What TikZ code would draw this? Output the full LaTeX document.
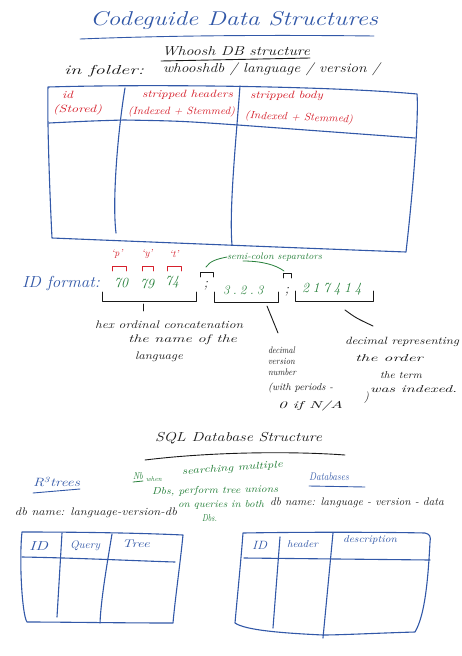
\documentclass[tikz,border=0pt]{standalone}
\usepackage{graphicx}
\definecolor{pblue}{RGB}{50,88,168}
\definecolor{pred}{RGB}{214,32,44}
\definecolor{pgreen}{RGB}{38,128,58}
\definecolor{inkk}{RGB}{25,25,25}
\newcommand\hw[2]{\resizebox{#1pt}{\height}{#2}}
\newcommand\ksp{\kern3.3pt}
\tikzset{
  lbl/.style={inner sep=0pt, outer sep=0pt, anchor=west},
  fs/.style={font=\itshape\fontsize{#1}{#1}\selectfont},
  tbl/.style={draw=pblue, line width=1.1pt, line cap=round, line join=round},
  inkline/.style={draw=inkk, line width=0.9pt, line cap=round, line join=round},
  redline/.style={draw=pred, line width=0.9pt, line cap=round, line join=round},
  greenline/.style={draw=pgreen, line width=0.8pt, line cap=round},
  blueline/.style={draw=pblue, line width=0.9pt, line cap=round},
}
\begin{document}
\begin{tikzpicture}[x=1pt,y=-1pt]
\useasboundingbox[fill=white] (0,0) rectangle (462,656);

% ---------- title ----------
\node[lbl,fs=20,text=pblue] (title) at (90,20) {\hw{288}{Codeguide Data Structures}};
\draw[blueline] (80,39) .. controls (180,35) and (290,35) .. (374,36);

% ---------- whoosh ----------
\node[lbl,fs=13,text=inkk] (whoosh) at (162,51) {\hw{148}{Whoosh DB structure}};
\draw[inkline] (161,61) -- (310,58);
\node[lbl,fs=13,text=inkk] (infolder) at (64,71) {\hw{80}{in folder:}};
\node[lbl,fs=13,text=inkk] (folder) at (163,69) {\hw{217}{whooshdb / language / version /}};

% ---------- table 1 ----------
\draw[tbl] (48,87) .. controls (150,84) and (330,86) .. (417,94)
  .. controls (419,120) and (412,200) .. (406,252)
  .. controls (300,248) and (150,242) .. (52,238)
  .. controls (50,200) and (47,120) .. cycle;
\draw[tbl] (49,123) .. controls (90,121) .. (124,120) .. controls (180,121) .. (238,125) -- (415,138);
\draw[tbl] (125,88) .. controls (118,130) and (112,200) .. (116,233);
\draw[tbl] (240,86) .. controls (236,140) and (229,210) .. (232,245);

\node[lbl,fs=10.5,text=pred] (h1a) at (62,95) {\hw{11}{id}};
\node[lbl,fs=10.5,text=pred] (h1b) at (53,110) {\hw{49}{(Stored)}};
\node[lbl,fs=10.5,text=pred] (h2a) at (142,95) {\hw{91}{stripped headers}};
\node[lbl,fs=10.5,text=pred] (h2b) at (128,112) {\hw{107}{(Indexed + Stemmed)}};
\node[lbl,fs=10.5,text=pred] (h3a) at (250,96) {\hw{73}{stripped body}};
\node[lbl,fs=10.5,text=pred,rotate=-2] (h3b) at (245,116) {\hw{108}{(Indexed + Stemmed)}};

% ---------- ID format ----------
\node[lbl,fs=16,text=pblue] (idf) at (22,283) {\hw{78}{ID format:}};
\node[fs=10,text=pred,inner sep=0pt] (lp) at (117,254) {`p'};
\node[fs=10,text=pred,inner sep=0pt] (ly) at (147,254) {`y'};
\node[fs=10,text=pred,inner sep=0pt] (lt) at (174,254) {`t'};
\draw[redline] (112,271) -- (112,266) -- (126,266) -- (126,271);
\draw[redline] (142,271) -- (142,266) -- (153,266) -- (153,271);
\draw[redline] (167,271) -- (167,266) -- (181,266) -- (181,271);
\node[fs=14,text=pgreen,inner sep=0pt] (n70) at (121,283) {70};
\node[fs=14,text=pgreen,inner sep=0pt] (n79) at (147,284) {79};
\node[fs=14,text=pgreen,inner sep=0pt] (n74) at (172,282) {74};
\node[fs=14,text=inkk,inner sep=0pt] (sc1) at (206,286) {;};
\node[fs=14,text=inkk,inner sep=0pt] (sc2) at (287,292) {;};
\node[lbl,fs=13,text=pgreen] (ver) at (223,290) {3\ksp.\ksp2\ksp.\ksp3};
\node[lbl,fs=14,text=pgreen] (idx) at (302,289) {2\kern3.5pt1\kern3.5pt7\kern3.5pt4\kern3.5pt1\kern3.5pt4};
\draw[inkline] (200,277) -- (200,272) -- (213,272) -- (213,277);
\draw[inkline] (283,278) -- (283,273) -- (291,273) -- (291,278);

\node[lbl,fs=9.5,text=pgreen] (semi) at (227,257) {\hw{95}{semi-colon separators}};
\coordinate (sc1top) at (206,267);
\coordinate (sc2top) at (284,271);
\coordinate (semimid) at (243,261);
\draw[greenline] (sc1top) .. controls (210,261) and (217,259) .. (semi.west);
\draw[greenline] (semimid) .. controls (262,261) and (276,265) .. (sc2top);

\draw[inkline] (102,292) -- (102,301) -- (196,301) -- (196,292);
\draw[inkline] (214,292) -- (214,302) -- (278,302) -- (278,292);
\draw[inkline] (295,291) -- (295,301) -- (373,301) -- (373,291);

% ---------- explanations ----------
\node[lbl,fs=11,text=inkk] (hex1) at (95,325) {\hw{148}{hex ordinal concatenation}};
\node[lbl,fs=11,text=inkk] (hex2) at (128,340) {\hw{109}{the name of the}};
\node[lbl,fs=11,text=inkk] (hex3) at (135,357) {\hw{48}{language}};
\node[lbl,fs=9.5,text=inkk] (d1) at (268,350) {\hw{27}{decimal}};
\node[lbl,fs=9.5,text=inkk] (d2) at (268,361) {\hw{27}{version}};
\node[lbl,fs=9.5,text=inkk] (d3) at (268,372) {\hw{28}{number}};
\node[lbl,fs=10,text=inkk] (d4) at (268,388) {\hw{65}{(with periods -}};
\node[lbl,fs=10,text=inkk] (d5) at (278,406) {\hw{65}{0 if N/A}};
\node[lbl,fs=12,text=inkk] (d6) at (364,398) {)};
\node[lbl,fs=10.5,text=inkk] (r1) at (345,342) {\hw{114}{decimal representing}};
\node[lbl,fs=10,text=inkk] (r2) at (355,358) {\hw{68}{the order}};
\node[lbl,fs=10,text=inkk] (r3) at (380,375) {\hw{42}{the term}};
\node[lbl,fs=10,text=inkk] (r4) at (370,389) {\hw{87}{was indexed.}};

\coordinate (b1) at (143,304);
\coordinate (hextop) at (143,311);
\coordinate (b2) at (267,306);
\coordinate (d1top) at (278,333);
\coordinate (b3) at (345,310);
\coordinate (r1top) at (373,326);
\draw[inkline] (b1) -- (hextop);
\draw[inkline] (b2) -- (d1top);
\draw[inkline] (b3) .. controls (356,318) .. (r1top);

% ---------- SQL ----------
\node[lbl,fs=13,text=inkk] (sql) at (155,438) {\hw{167}{SQL Database Structure}};
\draw[inkline] (145,460) .. controls (210,452) and (290,451) .. (345,455);

\node[lbl,fs=12,text=pblue] (rtree) at (33,482) {\hw{47}{R\textsuperscript{3}trees}};
\draw[blueline] (33,493) -- (80,489);
\node[lbl,fs=11,text=inkk] (dbn1) at (15,513) {\hw{162}{db name: language-version-db}};

\node[lbl,fs=10,text=pgreen] (nb) at (133,476) {\hw{10}{Nb}};
\draw[greenline] (133,482) -- (143,481);
\node[lbl,fs=7,text=pgreen] (when) at (146,479) {\hw{16}{when}};
\node[lbl,fs=10,text=pgreen,rotate=4] (nb1) at (182,472) {\hw{101}{searching multiple}};
\node[lbl,fs=10,text=pgreen,rotate=1] (nb2) at (152,492) {\hw{126}{Dbs, perform tree unions}};
\node[lbl,fs=10,text=pgreen] (nb3) at (178,505) {\hw{86}{on queries in both}};
\node[lbl,fs=10,text=pgreen] (nb4) at (202,518) {\hw{15}{Dbs.}};

\node[lbl,fs=11,text=pblue] (dbs) at (309,477) {\hw{40}{Databases}};
\draw[blueline] (309,486) -- (365,487);
\node[lbl,fs=11,text=inkk] (dbn2) at (270,503) {\hw{174}{db name: language - version - data}};

% ---------- table 2 ----------
\draw[tbl] (22,532) .. controls (80,532) and (140,533) .. (183,535)
  .. controls (180,565) and (175,600) .. (173,623)
  .. controls (120,623) and (60,622) .. (27,622)
  .. controls (22,615) and (19,560) .. cycle;
\draw[tbl] (22,557) .. controls (80,558) and (140,561) .. (175,562);
\draw[tbl] (62,533) -- (57,617);
\draw[tbl] (112,534) .. controls (106,570) and (101,600) .. (100,623);
\node[lbl,fs=13,text=pblue] (t2a) at (29,546) {\hw{19}{ID}};
\node[lbl,fs=11,text=pblue] (t2b) at (70,546) {\hw{30}{Query}};
\node[lbl,fs=11,text=pblue] (t2c) at (122,544) {\hw{28}{Tree}};

% ---------- table 3 ----------
\draw[tbl] (243,533) .. controls (300,532) and (380,532) .. (425,533)
  .. controls (430,534) and (431,537) .. (430,542)
  .. controls (428,580) and (425,615) .. (415,632)
  .. controls (380,633) and (340,635) .. (323,635)
  .. controls (280,633) and (245,630) .. (235,623)
  .. controls (237,600) and (241,560) .. cycle;
\draw[tbl] (244,558) -- (430,560);
\draw[tbl] (280,537) -- (273,628);
\draw[tbl] (333,533) -- (323,638);
\node[lbl,fs=12,text=pblue] (t3a) at (252,545) {\hw{15}{ID}};
\node[lbl,fs=10,text=pblue] (t3b) at (287,544) {\hw{31}{header}};
\node[lbl,fs=10,text=pblue] (t3c) at (343,540) {\hw{54}{description}};
\end{tikzpicture}
\end{document}
